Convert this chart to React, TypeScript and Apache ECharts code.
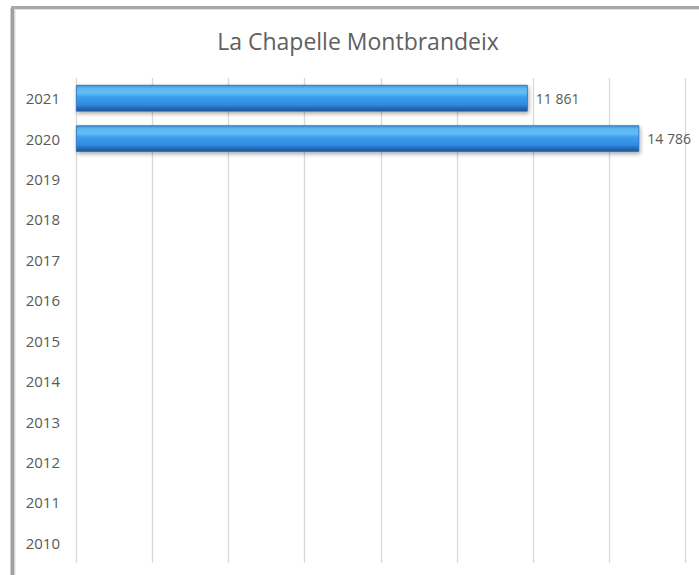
import React, { useEffect, useRef } from "react";
import * as echarts from "echarts";

const title = "La Chapelle Montbrandeix";
const years = ["2010", "2011", "2012", "2013", "2014", "2015", "2016", "2017", "2018", "2019", "2020", "2021"];
const values: (number | null)[] = [null, null, null, null, null, null, null, null, null, null, 14786, 11861];
const xTicks = { min: 0, max: 16000, interval: 2000 };

const fmt = (v: number) => String(Math.round(v)).replace(/\B(?=(\d{3})+(?!\d))/g, " ");

export default function App() {
  const ref = useRef<HTMLDivElement>(null);
  useEffect(() => {
    const chart = echarts.init(ref.current!, null, { renderer: "svg" });
    chart.setOption({
      animation: false,
      backgroundColor: "#ffffff",
      title: {
        text: title,
        left: 353,
        textAlign: "center",
        top: 24,
        textStyle: { fontFamily: "Open Sans", fontSize: 23, fontWeight: "normal", color: "#606060" },
      },
      graphic: [
        { type: "line", shape: { x1: 12.5, y1: 8, x2: 12.5, y2: 580 }, style: { stroke: "#a0a0a0", lineWidth: 4 } },
        { type: "line", shape: { x1: 11, y1: 7.5, x2: 710, y2: 7.5 }, style: { stroke: "#a8a8a8", lineWidth: 3 } },
        { type: "line", shape: { x1: 15, y1: 10, x2: 15, y2: 580 }, style: { stroke: "#dcdcdc", lineWidth: 1 } },
        { type: "line", shape: { x1: 14, y1: 9.5, x2: 710, y2: 9.5 }, style: { stroke: "#e0e0e0", lineWidth: 1 } },
      ],
      grid: { left: 76, right: 13.5, top: 78, bottom: 12, containLabel: false },
      xAxis: {
        type: "value",
        min: xTicks.min,
        max: xTicks.max,
        interval: xTicks.interval,
        axisLabel: { show: false },
        axisLine: { show: false },
        axisTick: { show: false },
        splitLine: { show: true, lineStyle: { color: "#d9d9d9", width: 1.3 } },
      },
      yAxis: {
        type: "category",
        data: years,
        axisLine: { show: false },
        axisTick: { show: false },
        axisLabel: { color: "#595959", fontFamily: "Open Sans", fontSize: 15, margin: 16 },
        splitLine: { show: false },
      },
      series: [
        {
          type: "bar",
          data: values,
          barWidth: "66%",
          itemStyle: {
            color: new echarts.graphic.LinearGradient(0, 0, 0, 1, [
              { offset: 0, color: "#3f8fd9" },
              { offset: 0.12, color: "#5cb6f2" },
              { offset: 0.3, color: "#63bdf5" },
              { offset: 0.45, color: "#3c9ef0" },
              { offset: 0.75, color: "#2f8ae0" },
              { offset: 0.9, color: "#2366b0" },
              { offset: 1, color: "#1d5492" },
            ]),
            borderColor: "#2a70b8",
            borderWidth: 0.8,
            shadowColor: "rgba(0,0,0,0.35)",
            shadowBlur: 4,
            shadowOffsetX: 1,
            shadowOffsetY: 2,
          },
          label: {
            show: true,
            position: "right",
            distance: 8,
            color: "#595959",
            fontFamily: "Open Sans",
            fontSize: 14,
            formatter: (p: any) => (p.value == null ? "" : fmt(p.value)),
          },
        },
      ],
    });
    return () => chart.dispose();
  }, []);
  return <div ref={ref} style={{ position: "fixed", left: 0, top: 0, width: 699, height: 575 }} />;
}
